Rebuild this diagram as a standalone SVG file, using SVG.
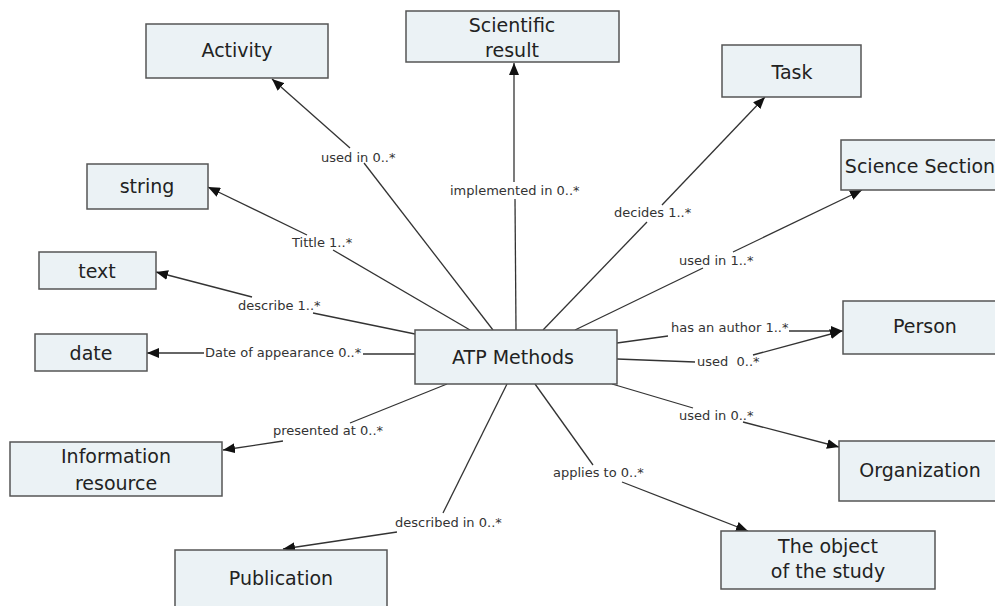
<svg xmlns="http://www.w3.org/2000/svg" width="995" height="606" viewBox="0 0 995 606">
<defs>
<style>
.box{fill:#ebf2f5;stroke:#555;stroke-width:1.5}
.nt{font-family:"DejaVu Sans",Verdana,sans-serif;font-size:19px;fill:#222;text-anchor:middle}
.lb{font-family:"DejaVu Sans",Verdana,sans-serif;font-size:13px;fill:#333}
.ln{stroke:#333;stroke-width:1.3;fill:none}
.ar{marker-end:url(#arr)}
</style>
<marker id="arr" viewBox="0 0 12 10" refX="12" refY="5" markerWidth="12" markerHeight="10" markerUnits="userSpaceOnUse" orient="auto"><path d="M0,0 L12,5 L0,10 z" fill="#111"/></marker>
</defs>
<rect width="995" height="606" fill="#fff"/>
<g id="connectors">
<path class="ln ar" d="M350,148 L272,79"/><path class="ln" d="M364,163 L493,330"/>
<path class="ln ar" d="M514,182 L514,63"/><path class="ln" d="M515,199 L516,330"/>
<path class="ln ar" d="M662,205 L765,97"/><path class="ln" d="M647,222 L543,330"/>
<path class="ln ar" d="M733,252 L862,190"/><path class="ln" d="M703,268 L575,330"/>
<path class="ln ar" d="M307,235 L208,187"/><path class="ln" d="M333,250 L470,330"/>
<path class="ln ar" d="M252,297 L156,272"/><path class="ln" d="M313,313 L415,334"/>
<path class="ln ar" d="M204,353 L147,353"/><path class="ln" d="M363,354 L415,354"/>
<path class="ln" d="M617,343 L668,336"/><path class="ln ar" d="M789,331 L843,331"/>
<path class="ln" d="M617,359 L695,362"/><path class="ln ar" d="M753,355 L842,331"/>
<path class="ln" d="M612,384 L693,408"/><path class="ln ar" d="M743,422 L839,447"/>
<path class="ln" d="M535,384 L593,465"/><path class="ln ar" d="M622,482 L748,531"/>
<path class="ln" d="M507,384 L443,513"/><path class="ln ar" d="M397,532 L283,549"/>
<path class="ln" d="M447,384 L350,423"/><path class="ln ar" d="M283,441 L223,450"/>
<text class="lb" x="321" y="162">used in 0..*</text>
<text class="lb" x="450" y="195">implemented in 0..*</text>
<text class="lb" x="614" y="217">decides 1..*</text>
<text class="lb" x="679" y="265">used in 1..*</text>
<text class="lb" x="292" y="247">Tittle 1..*</text>
<text class="lb" x="238" y="310">describe 1..*</text>
<text class="lb" x="205" y="357">Date of appearance 0..*</text>
<text class="lb" x="671" y="332">has an author 1..*</text>
<text class="lb" x="697" y="366" xml:space="preserve">used  0..*</text>
<text class="lb" x="679" y="420">used in 0..*</text>
<text class="lb" x="553" y="477">applies to 0..*</text>
<text class="lb" x="395" y="527">described in 0..*</text>
<text class="lb" x="273" y="435">presented at 0..*</text>
</g>
<g id="activity"><rect class="box" x="146" y="24" width="182" height="54"/><text class="nt" x="237" y="57">Activity</text></g>
<g id="scientific-result"><rect class="box" x="406" y="11" width="213" height="51"/><text class="nt" x="512" y="32">Scientific</text><text class="nt" x="512" y="57">result</text></g>
<g id="task"><rect class="box" x="722" y="45" width="139" height="52"/><text class="nt" x="792" y="79">Task</text></g>
<g id="science-section"><rect class="box" x="841" y="140" width="170" height="50"/><text class="nt" x="920" y="173">Science Section</text></g>
<g id="string"><rect class="box" x="87" y="164" width="121" height="45"/><text class="nt" x="147" y="193">string</text></g>
<g id="text"><rect class="box" x="39" y="252" width="117" height="37"/><text class="nt" x="97" y="278">text</text></g>
<g id="date"><rect class="box" x="35" y="334" width="112" height="37"/><text class="nt" x="91" y="360">date</text></g>
<g id="atp-methods"><rect class="box" x="415" y="330" width="202" height="54"/><text class="nt" x="513" y="364">ATP Methods</text></g>
<g id="person"><rect class="box" x="843" y="301" width="170" height="53"/><text class="nt" x="925" y="333">Person</text></g>
<g id="information-resource"><rect class="box" x="10" y="442" width="212" height="54"/><text class="nt" x="116" y="463">Information</text><text class="nt" x="116" y="490">resource</text></g>
<g id="publication"><rect class="box" x="175" y="550" width="212" height="62"/><text class="nt" x="281" y="585">Publication</text></g>
<g id="organization"><rect class="box" x="839" y="441" width="170" height="60"/><text class="nt" x="920" y="477">Organization</text></g>
<g id="object-of-study"><rect class="box" x="721" y="531" width="214" height="58"/><text class="nt" x="828" y="553">The object</text><text class="nt" x="828" y="578">of the study</text></g>
</svg>
